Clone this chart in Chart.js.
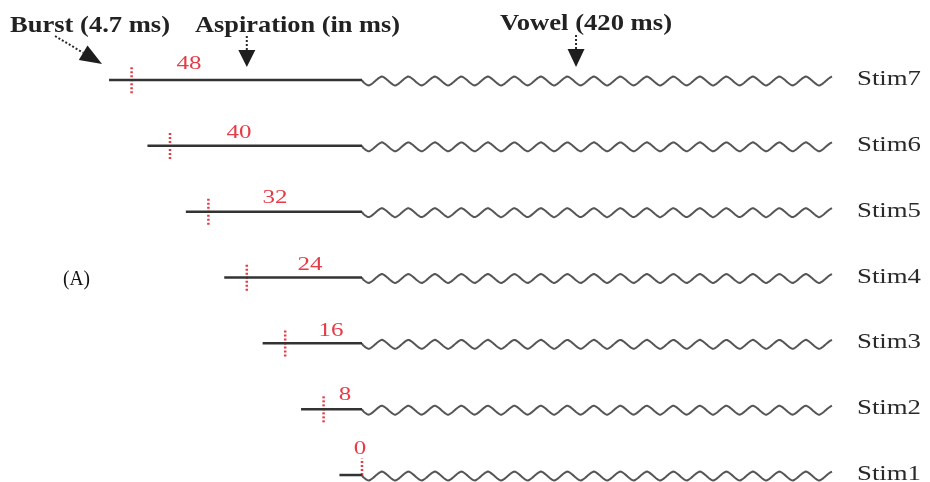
<!DOCTYPE html>
<html>
<head>
<meta charset="utf-8">
<script src="https://cdn.jsdelivr.net/npm/chart.js@4.4.1/dist/chart.umd.min.js"></script>
<style>
  html, body { margin: 0; padding: 0; background: #ffffff; }
  #wrap { width: 930px; height: 482px; }
</style>
</head>
<body>
<div id="wrap"><canvas id="c" width="930" height="482"></canvas></div>
<script>
// ---- data ----
const stimLabels = ['Stim1', 'Stim2', 'Stim3', 'Stim4', 'Stim5', 'Stim6', 'Stim7'];
const aspirationMs = [0, 8, 16, 24, 32, 40, 48];
const burstMs = 4.7;
const vowelMs = 420;
const titleLabels = ['Burst (4.7 ms)', 'Aspiration (in ms)', 'Vowel (420 ms)'];
const panelLabel = '(A)';

// ---- style ----
const VOWEL_DRAW_FACTOR = 98 / 420;   // vowel drawn compressed on the time axis
const LINE_COLOR = '#333333';
const WAVE_COLOR = '#555555';
const RED = '#e63a46';
const MARK_HALF = 0.2;
const numOffsetPx = [-2, -17, -31, -52, -87, -123, -173]; // number label centre relative to vowel onset
const numBaseline = [-21, -9, -7, -8, -9, -8, -11];

const datasets = [];
stimLabels.forEach((s, i) => {
  const row = i + 1;
  datasets.push({
    label: s,
    data: [{ x: -(aspirationMs[i] + burstMs), y: row }, { x: 0, y: row }],
    borderColor: LINE_COLOR, borderWidth: 2.5, pointRadius: 0, showLine: true
  });
});
stimLabels.forEach((s, i) => {
  const row = i + 1;
  datasets.push({
    label: s + ' burst/aspiration boundary',
    data: [{ x: -aspirationMs[i], y: row - (i === 0 ? 0 : MARK_HALF) }, { x: -aspirationMs[i], y: row + MARK_HALF + (i === 0 ? 0.05 : 0) }],
    borderColor: RED, borderWidth: 2.5, borderDash: [2, 2], pointRadius: 0, showLine: true
  });
});

function drawFitText(ctx, text, x, y, font, color, width, align) {
  ctx.save();
  ctx.font = font;
  ctx.fillStyle = color;
  ctx.textBaseline = 'alphabetic';
  const w = ctx.measureText(text).width;
  const sx = width ? width / w : 1;
  let left = x;
  if (align === 'center') left = x - (w * sx) / 2;
  ctx.translate(left, y);
  ctx.scale(sx, 1);
  ctx.textAlign = 'left';
  ctx.fillText(text, 0, 0);
  ctx.restore();
}

function arrow(ctx, fx, fy, tx, ty, headLen, halfW) {
  const dx = tx - fx, dy = ty - fy;
  const L = Math.hypot(dx, dy);
  const ux = dx / L, uy = dy / L;
  const bx = tx - ux * headLen, by = ty - uy * headLen;
  ctx.save();
  ctx.strokeStyle = '#2a2a2a';
  ctx.lineWidth = 2;
  ctx.setLineDash([2, 2]);
  ctx.beginPath();
  ctx.moveTo(fx, fy);
  ctx.lineTo(bx, by);
  ctx.stroke();
  ctx.setLineDash([]);
  ctx.fillStyle = '#1e1e1e';
  ctx.beginPath();
  ctx.moveTo(tx, ty);
  ctx.lineTo(bx - uy * halfW, by + ux * halfW);
  ctx.lineTo(bx + uy * halfW, by - ux * halfW);
  ctx.closePath();
  ctx.fill();
  ctx.restore();
}

const decor = {
  id: 'decor',
  beforeDatasetsDraw(chart) {
    const ctx = chart.ctx;
    const xs = chart.scales.x, ys = chart.scales.y;
    // vowel waves
    stimLabels.forEach((s, i) => {
      const row = ys.getPixelForValue(i + 1);
      const x0 = xs.getPixelForValue(0);
      const x1 = xs.getPixelForValue(vowelMs * VOWEL_DRAW_FACTOR);
      const period = 26.5, amp = 4.6;
      ctx.save();
      ctx.strokeStyle = WAVE_COLOR;
      ctx.lineWidth = 2;
      ctx.lineJoin = 'round';
      ctx.beginPath();
      ctx.moveTo(x0, row);
      for (let x = x0 + 1; x <= x1; x += 1) {
        const ph = ((x - x0) / period) % 1;
        const tri = ph < 0.25 ? ph * 4 : ph < 0.75 ? 2 - ph * 4 : ph * 4 - 4;
        const sn = Math.sin(2 * Math.PI * ph);
        const y = row + 1 + amp * (0.5 * tri + 0.5 * sn);
        ctx.lineTo(x, y);
      }
      ctx.stroke();
      ctx.restore();
    });
  },
  afterDatasetsDraw(chart) {
    const ctx = chart.ctx;
    const xs = chart.scales.x, ys = chart.scales.y;
    const onset = xs.getPixelForValue(0);
    stimLabels.forEach((s, i) => {
      const row = ys.getPixelForValue(i + 1);
      drawFitText(ctx, s, 857, row + 5, '22px "Liberation Serif"', '#2a2a2a', 64, 'left');
      const t = String(aspirationMs[i]);
      drawFitText(ctx, t, onset + numOffsetPx[i], row + numBaseline[i], '18px "Liberation Serif"', RED, t.length * 12.5, 'center');
    });
    drawFitText(ctx, titleLabels[0], 10, 32, 'bold 24px "Liberation Serif"', '#222222', 160, 'left');
    drawFitText(ctx, titleLabels[1], 195, 32, 'bold 24px "Liberation Serif"', '#222222', 205, 'left');
    drawFitText(ctx, titleLabels[2], 500, 30, 'bold 24px "Liberation Serif"', '#222222', 172, 'left');
    drawFitText(ctx, panelLabel, 63, 285, '20px "Liberation Serif"', '#111111', 27, 'left');
    const top = ys.getPixelForValue(7);
    const burstStart = xs.getPixelForValue(-(aspirationMs[6] + burstMs));
    arrow(ctx, burstStart - 54, top - 44, burstStart - 7, top - 16, 22, 8.5);
    const aspX = xs.getPixelForValue(-aspirationMs[6] / 2);
    arrow(ctx, aspX, 36, aspX, top - 13, 17, 8.5);
    const vowX = xs.getPixelForValue(vowelMs * VOWEL_DRAW_FACTOR * 0.455);
    arrow(ctx, vowX, 35, vowX, top - 13, 18, 8.5);
  }
};

new Chart(document.getElementById('c'), {
  type: 'scatter',
  data: { datasets },
  options: {
    responsive: false,
    animation: false,
    layout: { padding: 0 },
    plugins: { legend: { display: false }, tooltip: { enabled: false }, title: { display: false } },
    scales: {
      x: { type: 'linear', min: -362 / 4.8, max: (930 - 362) / 4.8, display: false },
      y: { type: 'linear', min: 0.894, max: 8.215, display: false }
    }
  },
  plugins: [decor]
});
</script>
</body>
</html>
